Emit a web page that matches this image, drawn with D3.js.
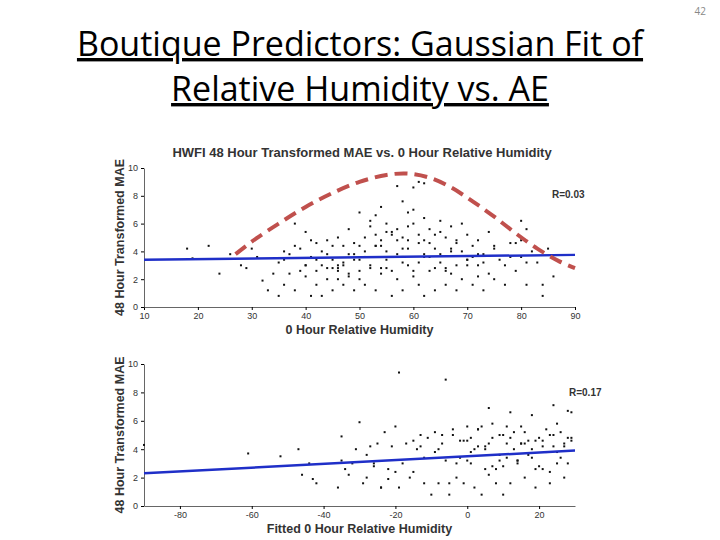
<!DOCTYPE html><html><head><meta charset="utf-8"><script src="https://cdn.jsdelivr.net/npm/d3@7"></script>
<style>body{margin:0;background:#fff}</style></head><body><svg id="c" width="720" height="540"></svg>
<script>
const titleLines=["Boutique Predictors: Gaussian Fit of","Relative Humidity vs. AE"];
const topX=[18,19,22,24,26,28,29,30,31,32,33,34,35,35,36,36,37,37,38,38,39,39,40,40,41,41,42,42,43,43,44,44,45,45,46,46,47,47,48,48,49,49,50,50,51,51,52,52,53,53,54,54,55,55,56,56,57,57,58,58,59,59,60,60,61,61,62,62,63,63,64,64,65,65,66,66,67,67,68,68,69,69,70,70,71,71,72,72,73,73,74,75,75,76,77,78,79,80,80,81,81,82,83,84,84,85,86,57,58,59,60,61,62,53,54,55,50,48,45,42,47,52,56,64,66,68,70,72,62,58,44,46,49,51,53,55,57,59,61,63,65,67,
 36,38,40,41,43,45,47,49,51,53,55,57,59,61,63,65,67,69,71,73,75,77,79,81,46,50,54,58,62,66,70,52,56,60,64,48,44,40,42,68,72,74,78,80,54,58,62,50,46,60];
const topY=[4.2,3.5,4.4,2.4,3.8,3.0,2.8,4.2,3.6,1.9,1.2,2.4,3.2,0.8,4.0,1.6,3.8,2.4,6.0,1.2,4.2,2.6,5.4,2.2,3.6,0.8,4.6,1.6,3.0,0.8,4.8,2.0,3.4,1.2,5.0,2.6,4.4,1.6,5.6,2.4,3.8,1.2,6.8,2.0,5.0,1.6,6.2,3.0,4.4,1.2,7.2,2.4,6.0,3.4,5.2,0.8,4.8,2.0,7.6,1.2,5.8,3.0,8.6,2.2,4.6,1.6,6.4,0.8,5.6,2.6,4.2,1.2,6.2,3.2,5.0,1.6,5.8,2.4,4.6,1.2,6.0,2.0,5.2,3.0,4.4,1.6,4.8,2.2,3.8,1.2,5.4,4.2,2.0,3.4,1.6,4.6,2.6,6.2,3.6,5.6,1.6,4.0,3.2,1.6,0.8,4.2,2.2,8.7,5.0,6.8,7.0,9.0,8.9,6.6,4.8,5.4,4.4,3.8,2.8,2.6,3.0,2.8,2.6,2.8,2.8,3.0,3.4,3.0,3.6,4.2,3.8,2.8,3.4,4.0,4.4,2.8,3.8,4.2,3.2,3.6,3.8,4.0,
 3.4,4.4,3.0,4.8,4.0,4.4,3.2,4.6,3.6,5.2,4.0,5.6,4.8,5.2,4.6,5.4,4.2,4.0,3.6,3.2,4.4,3.0,4.6,3.2,3.0,3.4,2.8,3.2,3.8,2.6,3.4,5.8,5.4,6.0,5.2,2.2,2.8,3.0,3.4,4.8,3.8,2.4,3.6,4.8,4.4,3.6,4.8,2.6,2.0,2.6];
const botX=[-90,-61,-52,-47,-46,-44,-43,-42,-36,-35,-35,-34,-33,-32,-31,-30,-29,-28,-28,-27,-26,-25,-24,-23,-22,-22,-21,-20,-19,-19,-18,-17,-16,-15,-14,-13,-12,-12,-11,-10,-9,-8,-7,-6,-6,-5,-4,-3,-2,-1,0,0,1,2,3,4,5,6,6,7,8,9,10,10,11,12,12,13,14,15,16,17,18,18,19,20,21,22,23,24,24,25,26,27,28,29,29,-15,-13,-9,-7,-3,-1,1,3,5,7,9,11,13,15,17,19,21,23,25,27,2,4,8,14,16,20,22,26,28,-20,-24,-26,
 -5,-2,0,3,6,9,12,15,18,21,24,27,29,-8,-4,1,5,10,14,19,23,28,7,11,16,25];
const botY=[4.3,3.7,3.5,4.0,2.2,3.0,1.9,1.6,1.3,4.9,3.2,2.6,2.2,3.0,4.0,5.9,1.6,3.6,2.0,4.2,3.0,4.4,1.3,5.2,2.6,1.9,4.2,5.6,9.4,1.3,3.0,4.4,2.0,4.6,4.0,5.0,1.6,3.4,4.8,0.8,5.2,1.6,4.4,8.9,3.2,0.8,5.0,2.0,4.6,1.6,5.6,3.2,4.8,1.3,5.4,0.8,4.0,6.9,2.2,5.8,1.6,3.6,5.0,0.8,4.4,6.6,1.6,5.2,3.0,5.6,2.0,4.6,6.4,3.4,1.3,4.8,2.6,5.4,1.6,7.1,4.2,3.0,5.2,2.0,6.7,4.6,6.6,2.4,4.2,3.8,5.0,3.0,4.6,3.8,5.4,4.2,4.8,3.2,5.6,4.0,4.4,3.6,4.6,4.2,5.0,3.8,4.4,4.0,5.6,2.6,3.2,4.4,2.8,3.8,3.4,4.8,2.4,1.3,2.8,1.6,3.4,
 4.6,4.2,4.4,5.0,4.8,4.4,4.0,4.6,5.0,4.2,4.8,4.0,5.4,3.0,2.6,2.8,3.2,2.6,2.4,3.0,2.8,3.4,5.2,5.8,5.4,5.2];
const topTicksX=[10,20,30,40,50,60,70,80,90], yTicks=[0,2,4,6,8,10], botTicksX=[-80,-60,-40,-20,0,20];
const gaussX=[27,30,35,40,45,50,55,59,63,67,71,75,79,83,87,90];
const gaussY=[3.8,4.7,6.0,7.2,8.2,9.0,9.5,9.6,9.3,8.6,7.6,6.5,5.3,4.2,3.3,2.8];
const topFit=[[10,3.4],[90,3.75]], botFit=[[-90,2.3],[30,3.9]];

const svg=d3.select("#c");
svg.append("text").attr("x",706).attr("y",15).attr("text-anchor","end").attr("font-family","Open Sans").attr("font-size",10).attr("fill","#888").text("42");
titleLines.forEach((t,i)=>svg.append("text").attr("x",360).attr("y",56+i*45).attr("text-anchor","middle").attr("font-family","Open Sans, Liberation Sans").attr("font-size",34).attr("fill","#000").attr("text-decoration","underline").text(t));
const F="Liberation Sans, Arial";
function panel(x0,x1,dom,ty0,ty1,xs,ys,ticks,fit,xlab,title,rlab,rpos){
  const x=d3.scaleLinear().domain(dom).range([x0,x1]);
  const y=d3.scaleLinear().domain([0,10]).range([ty0,ty1]);
  const g=svg.append("g");
  g.append("g").attr("transform",`translate(0,${ty0})`).call(d3.axisBottom(x).tickValues(ticks).tickFormat(d=>String(d)).tickSize(3).tickSizeOuter(0)).call(a=>{a.selectAll("text").attr("font-family",F).attr("font-size",9).attr("fill","#333");a.select(".domain").attr("stroke","#666");});
  g.append("g").attr("transform",`translate(${x0},0)`).call(d3.axisLeft(y).tickValues(yTicks).tickSize(3).tickSizeOuter(0)).call(a=>{a.selectAll("text").attr("font-family",F).attr("font-size",9).attr("fill","#333");a.select(".domain").attr("stroke","#666");});
  g.selectAll("rect.p").data(xs.map((v,i)=>[v,ys[i]])).join("rect").attr("x",d=>x(d[0])-1).attr("y",d=>y(d[1])-1).attr("width",2).attr("height",2).attr("fill","#111");
  g.append("path").attr("d",d3.line().x(d=>x(d[0])).y(d=>y(d[1]))(fit)).attr("stroke","#1f2fc8").attr("stroke-width",2.5).attr("fill","none");
  g.append("text").attr("x",(x0+x1)/2).attr("y",ty0+27).attr("text-anchor","middle").attr("font-family",F).attr("font-weight","bold").attr("font-size",12.5).attr("fill","#333").text(xlab);
  g.append("text").attr("transform",`translate(124,${(ty0+ty1)/2}) rotate(-90)`).attr("text-anchor","middle").attr("font-family",F).attr("font-weight","bold").attr("font-size",12.5).attr("fill","#333").text("48 Hour Transformed MAE");
  if(title) g.append("text").attr("x",362).attr("y",157).attr("text-anchor","middle").attr("font-family",F).attr("font-weight","bold").attr("font-size",13).attr("fill","#333").text(title);
  g.append("text").attr("x",rpos[0]).attr("y",rpos[1]).attr("font-family",F).attr("font-weight","bold").attr("font-size",10).attr("fill","#333").text(rlab);
  return [x,y];
}
const [tx,ty]=panel(144,575,[10,90],307,168,topX,topY,topTicksX,topFit,"0 Hour Relative Humidity","HWFI 48 Hour Transformed MAE vs. 0 Hour Relative Humidity","R=0.03",[552,198]);
svg.append("path").attr("d",d3.line().curve(d3.curveCatmullRom).x(d=>tx(d[0])).y(d=>ty(d[1]))(gaussX.map((v,i)=>[v,gaussY[i]]))).attr("stroke","#c0504d").attr("stroke-width",4).attr("stroke-dasharray","13,7").attr("fill","none");
panel(144,575,[-90,30],506,364,botX,botY,botTicksX,botFit,"Fitted 0 Hour Relative Humidity",null,"R=0.17",[569,396]);
</script></body></html>
